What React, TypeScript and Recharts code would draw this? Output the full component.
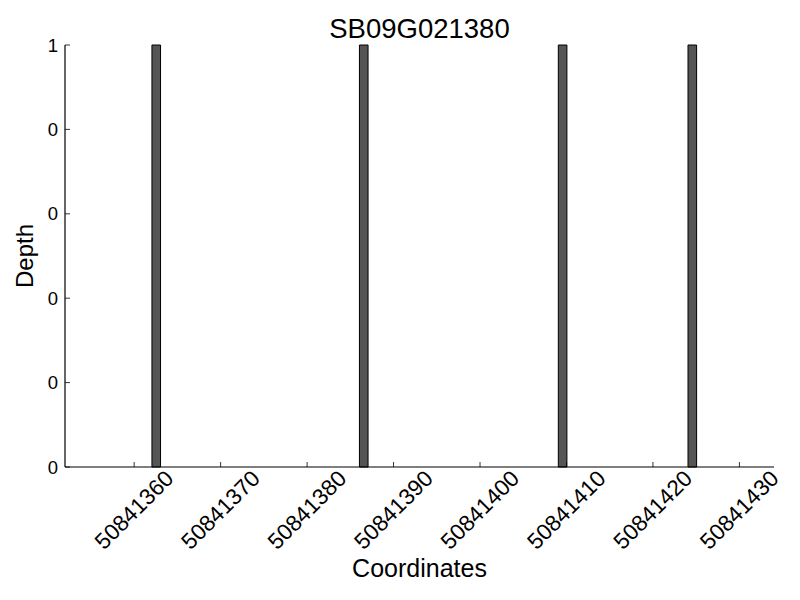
import { BarChart, Bar, XAxis, YAxis } from 'recharts'

// read coverage positions (bar left edges) and depth
const COORDS = [50841362, 50841386, 50841409, 50841424]
const DEPTH = [1, 1, 1, 1]
const X_TICKS = [50841360, 50841370, 50841380, 50841390, 50841400, 50841410, 50841420, 50841430]
const Y_TICKS = [0, 0.2, 0.4, 0.6, 0.8, 1]
const X_DOMAIN = [50841352, 50841434]

const data = COORDS.map((c, i) => ({ center: c + 0.5, depth: DEPTH[i] }))

const W = 800
const H = 600
const LEFT = 65
const TOP = 45
const RIGHT = 774
const BOTTOM = 467
const FONT = '"Liberation Sans", Arial, Helvetica, sans-serif'

function XTick(props: any) {
  const { x, payload } = props
  return (
    <g>
      <line x1={x} x2={x} y1={BOTTOM} y2={BOTTOM - 5} stroke="#000" strokeWidth={0.8} />
      <text
        x={x}
        y={BOTTOM + 43}
        textAnchor="middle"
        dominantBaseline="central"
        fontSize={22.5}
        fontFamily={FONT}
        fill="#000"
        transform={`rotate(-45 ${x} ${BOTTOM + 43})`}
      >
        {payload.value}
      </text>
    </g>
  )
}

function YTick(props: any) {
  const { y, payload } = props
  return (
    <g>
      <line x1={LEFT} x2={LEFT + 5} y1={y} y2={y} stroke="#000" strokeWidth={0.8} />
      <text
        x={LEFT - 7}
        y={y}
        textAnchor="end"
        dominantBaseline="central"
        fontSize={18.5}
        fontFamily={FONT}
        fill="#000"
      >
        {Math.trunc(payload.value)}
      </text>
    </g>
  )
}

export default function App() {
  return (
    <div style={{ position: 'absolute', left: 0, top: 0, width: W, height: H, background: '#fff' }}>
      <BarChart
        width={W}
        height={H}
        data={data}
        margin={{ top: TOP, right: W - RIGHT, bottom: 0, left: 0 }}
      >
        <XAxis
          dataKey="center"
          type="number"
          domain={X_DOMAIN}
          allowDataOverflow
          ticks={X_TICKS}
          interval={0}
          height={H - BOTTOM}
          axisLine={{ stroke: '#000', strokeWidth: 1.2 }}
          tickLine={false}
          tick={<XTick />}
        />
        <YAxis
          type="number"
          domain={[0, 1]}
          ticks={Y_TICKS}
          interval={0}
          width={LEFT}
          axisLine={{ stroke: '#000', strokeWidth: 1.2 }}
          tickLine={false}
          tick={<YTick />}
        />
        <Bar
          dataKey="depth"
          barSize={8.6}
          fill="#555555"
          stroke="#000"
          strokeWidth={1}
          isAnimationActive={false}
        />
      </BarChart>
      <svg
        width={W}
        height={H}
        style={{ position: 'absolute', left: 0, top: 0, pointerEvents: 'none' }}
      >
        <text x={(LEFT + RIGHT) / 2} y={37.5} textAnchor="middle" fontSize={27.5} fontFamily={FONT} fill="#000">
          SB09G021380
        </text>
        <text x={(LEFT + RIGHT) / 2} y={577} textAnchor="middle" fontSize={25} fontFamily={FONT} fill="#000">
          Coordinates
        </text>
        <text
          x={32.5}
          y={(TOP + BOTTOM) / 2}
          textAnchor="middle"
          fontSize={24}
          fontFamily={FONT}
          fill="#000"
          transform={`rotate(-90 32.5 ${(TOP + BOTTOM) / 2})`}
        >
          Depth
        </text>
      </svg>
    </div>
  )
}
